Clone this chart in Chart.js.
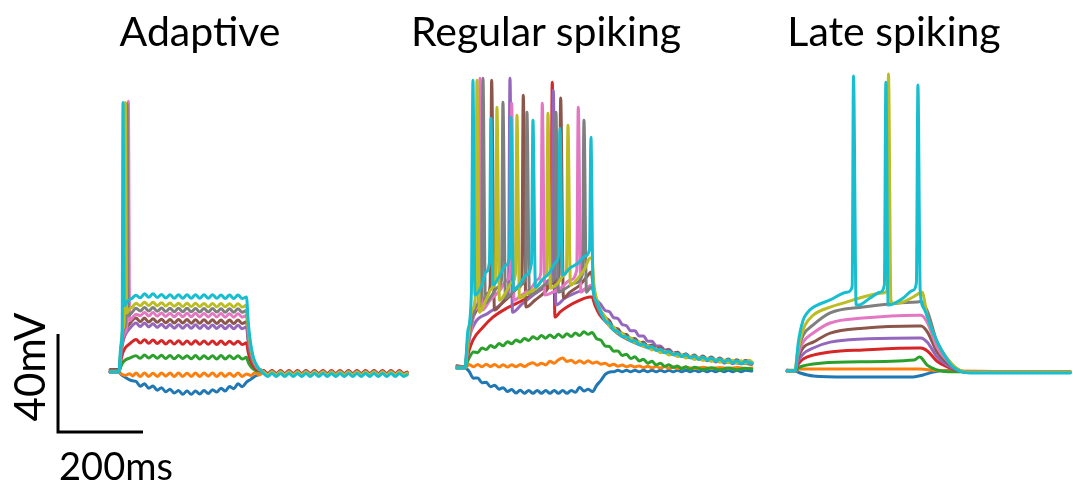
<!DOCTYPE html>
<html>
<head>
<meta charset="utf-8">
<script src="https://cdn.jsdelivr.net/npm/chart.js@4.4.0/dist/chart.umd.min.js"></script>
<style>
  body { margin: 0; background: #fff; }
  #wrap { position: relative; width: 1073px; height: 484px; overflow: hidden; }
  #c { position: absolute; left: 0; top: 0; }
  .lbl { position: absolute; font-family: Lato, sans-serif; font-size: 41px; line-height: 1; color: #000; text-align: center; white-space: nowrap; }
</style>
</head>
<body>
<div id="wrap">
  <canvas id="c" width="1073" height="484"></canvas>
  <div class="lbl" style="left:100px;top:10px;width:200px;">Adaptive</div>
  <div class="lbl" style="left:396px;top:10px;width:300px;">Regular spiking</div>
  <div class="lbl" style="left:744px;top:10px;width:300px;">Late spiking</div>
  <div class="lbl" style="left:-41px;top:346px;width:140px;font-size:42px;transform:rotate(-90deg);">40mV</div>
  <div class="lbl" style="left:36px;top:446px;width:160px;font-size:38px;">200ms</div>
</div>
<script>
// tab10 colours, weakest to strongest current step
const traceColors = ['#1f77b4', '#ff7f0e', '#2ca02c', '#d62728', '#9467bd',
                     '#8c564b', '#e377c2', '#7f7f7f', '#bcbd22', '#17becf'];

// where each panel sits: ms from the first step onset, mV above the first baseline
const panelShiftMs = [0, 814, 1591];
const panelShiftMv = [0, 1.6, 0.4];

// traces as [t ms from step onset, mV from rest, ...]; step lasts ~300 ms
// (the small ups and downs are the 50 Hz ripple seen on the recordings)
const adaptive = [
  [-21,0, 0,0, 5,-1.0, 15,-2.2, 25,-3.2, 32,-3.6,
   40,-3.8, 50,-5.8, 60,-4.8, 70,-6.6, 80,-5.7, 90,-7.4, 100,-6.4, 110,-8.1, 120,-7.0, 130,-8.6, 140,-7.5, 150,-9.1, 160,-7.7, 170,-9.1, 180,-7.7, 190,-9.0, 200,-7.5, 210,-8.8, 220,-7.2, 230,-8.2, 240,-6.6, 250,-7.8, 260,-5.9, 270,-6.8, 280,-4.8, 290,-6.0,
   300,-4.1, 310,-3.0, 320,-1.7, 330,-1.0,
   340,-0.2, 350,-1.4, 360,-0.2, 370,-1.4, 380,-0.2, 390,-1.4, 400,-0.2, 410,-1.4, 420,-0.2, 430,-1.4, 440,-0.2, 450,-1.4, 460,-0.2, 470,-1.4, 480,-0.2, 490,-1.4, 500,-0.2, 510,-1.4, 520,-0.2, 530,-1.4, 540,-0.2, 550,-1.4, 560,-0.2, 570,-1.4, 580,-0.2, 590,-1.4, 600,-0.2, 610,-1.4, 620,-0.2, 630,-1.4, 640,-0.2, 650,-1.4, 660,-0.2, 670,-1.4, 678,-0.8],
  [-21,0, 0,0, 6,-0.8, 15,-1.4, 25,-0.7, 32,-1.6,
   40,-0.4, 50,-1.8, 60,-0.4, 70,-1.8, 80,-0.5, 90,-1.8, 100,-0.4, 110,-1.7, 120,-0.4, 130,-1.8, 140,-0.4, 150,-1.8, 160,-0.5, 170,-1.8, 180,-0.4, 190,-1.8, 200,-0.4, 210,-1.7, 220,-0.4, 230,-1.8, 240,-0.4, 250,-1.8, 260,-0.5, 270,-1.8, 280,-0.4, 290,-1.8,
   300,-0.8, 310,-1.4, 320,-0.3, 330,-1.2,
   340,-0.1, 350,-1.3, 360,-0.1, 370,-1.3, 380,-0.1, 390,-1.3, 400,-0.1, 410,-1.3, 420,-0.1, 430,-1.3, 440,-0.1, 450,-1.3, 460,-0.1, 470,-1.3, 480,-0.1, 490,-1.3, 500,-0.1, 510,-1.3, 520,-0.1, 530,-1.3, 540,-0.1, 550,-1.3, 560,-0.1, 570,-1.3, 580,-0.1, 590,-1.3, 600,-0.1, 610,-1.3, 620,-0.1, 630,-1.3, 640,-0.1, 650,-1.3, 660,-0.1, 670,-1.3, 678,-0.7],
  [-21,0, 0,0, 4,2.1, 8,3.6, 14,4.8, 25,5.7,
   40,6.6, 50,5.6, 60,6.9, 70,5.7, 80,6.8, 90,5.6, 100,6.8, 110,5.5, 120,6.7, 130,5.4, 140,6.7, 150,5.5, 160,6.6, 170,5.4, 180,6.7, 190,5.3, 200,6.6, 210,5.4, 220,6.6, 230,5.3, 240,6.7, 250,5.3, 260,6.6, 270,5.4, 280,6.6, 290,5.3,
   300,6.0, 304,4.0, 309,2.5, 316,1.2, 326,0.4,
   340,0.1, 350,-1.1, 360,0.1, 370,-1.1, 380,0.1, 390,-1.1, 400,0.1, 410,-1.1, 420,0.1, 430,-1.1, 440,0.1, 450,-1.1, 460,0.1, 470,-1.1, 480,0.1, 490,-1.1, 500,0.1, 510,-1.1, 520,0.1, 530,-1.1, 540,0.1, 550,-1.1, 560,0.1, 570,-1.1, 580,0.1, 590,-1.1, 600,0.1, 610,-1.1, 620,0.1, 630,-1.1, 640,0.1, 650,-1.1, 660,0.1, 670,-1.1, 678,-0.5],
  [-21,0, 0,0, 4,4.2, 8,7.3, 14,9.7, 25,11.5,
   40,13.3, 50,11.8, 60,13.2, 70,11.7, 80,13.1, 90,11.6, 100,12.9, 110,11.4, 120,12.8, 130,11.4, 140,12.8, 150,11.3, 160,12.7, 170,11.3, 180,12.8, 190,11.3, 200,12.7, 210,11.3, 220,12.7, 230,11.2, 240,12.7, 250,11.2, 260,12.6, 270,11.3, 280,12.6, 290,11.2,
   300,11.9, 304,8.1, 309,4.9, 316,2.4, 326,0.8,
   340,0.6, 350,-0.6, 360,0.6, 370,-0.6, 380,0.6, 390,-0.6, 400,0.6, 410,-0.6, 420,0.6, 430,-0.6, 440,0.6, 450,-0.6, 460,0.6, 470,-0.6, 480,0.6, 490,-0.6, 500,0.6, 510,-0.6, 520,0.6, 530,-0.6, 540,0.6, 550,-0.6, 560,0.6, 570,-0.6, 580,0.6, 590,-0.6, 600,0.6, 610,-0.6, 620,0.6, 630,-0.6, 640,0.6, 650,-0.6, 660,0.6, 670,-0.6, 678,0],
  [-21,0, 0,0, 4,6.5, 8,11.2, 14,14.9, 25,17.7,
   40,20.0, 50,18.6, 60,20.0, 70,18.4, 80,19.7, 90,18.2, 100,19.5, 110,18.0, 120,19.4, 130,17.9, 140,19.3, 150,17.9, 160,19.3, 170,17.9, 180,19.3, 190,17.8, 200,19.2, 210,17.8, 220,19.2, 230,17.8, 240,19.1, 250,17.7, 260,19.1, 270,17.7, 280,19.1, 290,17.7,
   300,18.4, 304,12.3, 309,7.5, 316,3.7, 326,1.3,
   340,0.2, 350,-1.0, 360,0.2, 370,-1.0, 380,0.2, 390,-1.0, 400,0.2, 410,-1.0, 420,0.2, 430,-1.0, 440,0.2, 450,-1.0, 460,0.2, 470,-1.0, 480,0.2, 490,-1.0, 500,0.2, 510,-1.0, 520,0.2, 530,-1.0, 540,0.2, 550,-1.0, 560,0.2, 570,-1.0, 580,0.2, 590,-1.0, 600,0.2, 610,-1.0, 620,0.2, 630,-1.0, 640,0.2, 650,-1.0, 660,0.2, 670,-1.0, 678,-0.4],
  [-21,1, -3,1, 0,0.5, 4,7.2, 8,12.4, 14,16.6, 25,19.7,
   40,22.0, 50,20.5, 60,22.0, 70,20.4, 80,21.7, 90,20.3, 100,21.5, 110,20.1, 120,21.4, 130,20.0, 140,21.4, 150,20.0, 160,21.4, 170,19.9, 180,21.3, 190,19.9, 200,21.3, 210,19.9, 220,21.3, 230,19.8, 240,21.2, 250,19.8, 260,21.2, 270,19.8, 280,21.2, 290,19.8,
   300,20.5, 304,13.7, 309,8.4, 316,4.1, 326,1.4,
   340,0.4, 350,-0.8, 360,0.4, 370,-0.8, 380,0.4, 390,-0.8, 400,0.4, 410,-0.8, 420,0.4, 430,-0.8, 440,0.4, 450,-0.8, 460,0.4, 470,-0.8, 480,0.4, 490,-0.8, 500,0.4, 510,-0.8, 520,0.4, 530,-0.8, 540,0.4, 550,-0.8, 560,0.4, 570,-0.8, 580,0.4, 590,-0.8, 600,0.4, 610,-0.8, 620,0.4, 630,-0.8, 640,0.4, 650,-0.8, 660,0.4, 670,-0.8, 678,-0.2],
  [-21,0, 0,0, 5,9, 14,16, 19,20, 22,110.5, 25,21, 32,22.2,
   40,23.6, 50,23.0, 60,24.3, 70,22.9, 80,24.3, 90,22.8, 100,24.1, 110,22.7, 120,24.0, 130,22.6, 140,24.0, 150,22.6, 160,24.0, 170,22.6, 180,24.0, 190,22.5, 200,23.9, 210,22.5, 220,23.9, 230,22.5, 240,23.9, 250,22.4, 260,23.8, 270,22.4, 280,23.8, 290,22.4,
   300,23.1, 304,15.5, 309,9.5, 316,4.6, 326,1.6,
   340,0.1, 350,-1.1, 360,0.1, 370,-1.1, 380,0.1, 390,-1.1, 400,0.1, 410,-1.1, 420,0.1, 430,-1.1, 440,0.1, 450,-1.1, 460,0.1, 470,-1.1, 480,0.1, 490,-1.1, 500,0.1, 510,-1.1, 520,0.1, 530,-1.1, 540,0.1, 550,-1.1, 560,0.1, 570,-1.1, 580,0.1, 590,-1.1, 600,0.1, 610,-1.1, 620,0.1, 630,-1.1, 640,0.1, 650,-1.1, 660,0.1, 670,-1.1, 678,-0.5],
  [-21,0.5, -3,0.5, 0,0, 5,10, 13,18, 16,21, 19,109.5, 22,23, 30,24.2,
   40,26.0, 50,24.9, 60,26.3, 70,24.9, 80,26.3, 90,24.8, 100,26.1, 110,24.7, 120,26.0, 130,24.6, 140,26.0, 150,24.6, 160,26.0, 170,24.6, 180,25.9, 190,24.5, 200,25.9, 210,24.5, 220,25.9, 230,24.5, 240,25.8, 250,24.4, 260,25.8, 270,24.4, 280,25.8, 290,24.4,
   300,25.1, 304,16.8, 309,10.3, 316,5.0, 326,1.8,
   340,0.0, 350,-1.2, 360,0.0, 370,-1.2, 380,0.0, 390,-1.2, 400,0.0, 410,-1.2, 420,0.0, 430,-1.2, 440,0.0, 450,-1.2, 460,0.0, 470,-1.2, 480,0.0, 490,-1.2, 500,0.0, 510,-1.2, 520,0.0, 530,-1.2, 540,0.0, 550,-1.2, 560,0.0, 570,-1.2, 580,0.0, 590,-1.2, 600,0.0, 610,-1.2, 620,0.0, 630,-1.2, 640,0.0, 650,-1.2, 660,0.0, 670,-1.2, 678,-0.6],
  [-21,0, 0,0, 5,12, 10,18, 12,20, 15,110, 18,24, 25,25.8, 32,26.6,
   40,28.1, 50,27.0, 60,28.5, 70,27.1, 80,28.5, 90,27.0, 100,28.3, 110,26.9, 120,28.2, 130,26.8, 140,28.1, 150,26.7, 160,28.1, 170,26.7, 180,28.1, 190,26.7, 200,28.0, 210,26.6, 220,28.0, 230,26.6, 240,28.0, 250,26.6, 260,27.9, 270,26.5, 280,27.9, 290,26.5,
   300,27.2, 304,18.2, 309,11.2, 316,5.4, 326,1.9,
   340,0.0, 350,-1.2, 360,0.0, 370,-1.2, 380,0.0, 390,-1.2, 400,0.0, 410,-1.2, 420,0.0, 430,-1.2, 440,0.0, 450,-1.2, 460,0.0, 470,-1.2, 480,0.0, 490,-1.2, 500,0.0, 510,-1.2, 520,0.0, 530,-1.2, 540,0.0, 550,-1.2, 560,0.0, 570,-1.2, 580,0.0, 590,-1.2, 600,0.0, 610,-1.2, 620,0.0, 630,-1.2, 640,0.0, 650,-1.2, 660,0.0, 670,-1.2, 678,-0.6],
  [-21,0, 0,0, 4,10, 7.5,18, 9.4,110, 12.5,27, 20,29, 30,30.0,
   40,31.3, 50,30.3, 60,31.9, 70,30.5, 80,31.9, 90,30.4, 100,31.6, 110,30.2, 120,31.5, 130,30.1, 140,31.5, 150,30.1, 160,31.5, 170,30.1, 180,31.5, 190,30.1, 200,31.5, 210,30.1, 220,31.5, 230,30.1, 240,31.4, 250,30.0, 260,31.4, 270,30.0, 280,31.4, 290,30.0,
   300,30.6, 304,20.5, 309,12.5, 316,6.1, 326,2.1,
   340,-0.6, 350,-1.8, 360,-0.6, 370,-1.8, 380,-0.6, 390,-1.8, 400,-0.6, 410,-1.8, 420,-0.6, 430,-1.8, 440,-0.6, 450,-1.8, 460,-0.6, 470,-1.8, 480,-0.6, 490,-1.8, 500,-0.6, 510,-1.8, 520,-0.6, 530,-1.8, 540,-0.6, 550,-1.8, 560,-0.6, 570,-1.8, 580,-0.6, 590,-1.8, 600,-0.6, 610,-1.8, 620,-0.6, 630,-1.8, 640,-0.6, 650,-1.8, 660,-0.6, 670,-1.8, 678,-1.2]
];

const regular = [
  [-18.8,0, 0,0, 10,-1.4, 20,-4.1, 30,-4.0, 40,-6.0, 50,-5.8, 60,-7.6, 70,-7.0, 80,-8.6, 90,-8.0, 100,-9.6, 110,-8.7, 120,-10.2, 130,-9.0, 140,-10.3, 150,-9.1, 160,-10.3, 170,-9.1, 180,-10.3, 190,-9.1, 200,-10.3, 210,-9.1, 220,-10.3, 230,-9.1, 240,-10.3, 250,-9.1, 260,-9.9, 270,-7.8, 280,-9.4, 290,-8.6, 300,-9.6,
   310,-7.0, 320,-5.0, 330,-2.6, 341,-1.6, 350,-1.5, 360,-0.9, 370,-1.5, 380,-0.9, 390,-1.5, 400,-0.9, 410,-1.5, 420,-0.9, 430,-1.5, 440,-0.9, 450,-1.5, 460,-0.9, 470,-1.5, 480,-0.9, 490,-1.5, 500,-0.9, 510,-1.5, 520,-0.9, 530,-1.5, 540,-0.9, 550,-1.5, 560,-0.9, 570,-1.5, 580,-0.9, 590,-1.5, 600,-0.9, 610,-1.5, 620,-0.9, 630,-1.5, 640,-0.9, 650,-1.5, 660,-0.9, 675,-1.2],
  [-18.8,0, 0,0, 10,1.5, 20,0.5, 30,1.5, 40,0.5, 50,1.6, 60,0.6, 70,1.5, 80,0.4, 90,1.4, 100,0.4, 110,1.4, 120,0.5, 130,1.5, 140,0.6, 150,1.6, 160,2.2, 170,1.2, 180,2.0, 190,1.3, 200,2.8, 210,2.0, 220,3.4, 230,4.1, 240,2.7, 250,3.2, 260,2.1, 270,3.0, 280,2.0, 290,3.0, 300,2.0,
   310,2.5, 320,1.6, 330,2.0, 340,1.0, 350,1.6, 360,0.8, 370,1.3, 380,0.5, 390,1.1, 400,0.4, 410,0.9, 420,0.2, 430,0.8, 440,0.1, 450,0.7, 460,0.0, 470,0.6, 480,-0.1, 490,0.5, 500,-0.2, 520,0.3, 540,-0.2, 560,0.3, 580,-0.2, 600,0.2, 620,-0.2, 640,0.2, 660,-0.2, 675,0],
  [-18.8,0, 0,0, 4.7,2, 10,4.2, 20,6.6, 30,6.3, 40,8.2, 50,7.6, 60,9.2, 70,8.4, 80,10.0, 90,9.1, 100,10.8, 110,9.9, 120,11.5, 130,10.6, 140,12.1, 150,11.3, 160,12.8, 170,11.9, 180,13.3, 190,12.2, 200,13.5, 210,12.4, 220,13.8, 230,12.6, 240,14.0, 250,12.9, 260,14.3, 270,13.3, 280,14.8, 290,13.8, 299,14.5,
   310,12.0, 320,11.4, 330,9.0, 340,8.8, 350,6.9, 360,7.0, 370,5.1, 380,5.6, 390,3.9, 400,4.6, 410,2.9, 420,3.6, 430,2.0, 440,2.8, 450,1.3, 460,2.0, 470,0.7, 480,1.4, 490,0.2, 500,0.9, 510,-0.3, 520,0.5, 530,-0.5, 540,0.3, 560,-0.6, 580,0.1, 600,-0.7, 620,0.0, 640,-0.7, 660,-0.1, 675,-0.4],
  [-18.8,0, 0,0, 4.7,4.1, 18.8,11.4, 42.4,16.7, 65.9,20.8, 98.8,24.5, 136.5,27.7, 176.5,31.8, 197.6,33.9, 201.9,35.9, 205.4,116.7, 211.8,20.8, 223.5,22.8, 240,24.9, 270.6,27.7, 294.1,29, 298.8,29, 305.9,25.7, 317.6,21.6, 341.2,17.5, 381.2,12.7, 418.8,9.8, 458.8,7.3, 505.9,5.3, 552.9,4.1, 616.5,2.9, 675.3,1.6],
  [-18.8,0, 0,0, 7.1,10.2, 23.5,18.4, 54.1,22.4, 87.1,26.5, 98.8,29.4, 102.4,31.8, 105.9,118.3, 111.8,22.8, 134.1,26.1, 157.6,29.4, 181.2,32.6, 197.6,35.9, 204.2,38.4, 207.8,113.4, 214.1,25.7, 235.3,28.6, 258.8,30.6, 294.1,33, 298.8,33.5, 305.9,29,
   320,25.9, 330,23.5, 340,23.0, 350,20.6, 360,20.2, 370,17.8, 380,17.3, 390,15.2, 400,15.2, 410,13.1, 420,13.1, 430,11.0, 440,11.0, 450,9.0, 460,9.0, 470,7.4, 480,7.7, 490,6.1, 500,6.5, 510,5.1, 520,5.7, 530,4.3, 540,4.9, 550,3.6, 560,4.3, 570,3.0, 580,3.7, 590,2.5, 600,3.3, 610,2.0, 620,2.9, 630,1.8, 640,2.7, 650,1.7, 660,2.6, 675.3,2],
  [-18.8,1, 0,0.5, 7.1,12.7, 23.5,22.4, 40,26.5, 54.1,30.6, 59.3,33.9, 62.8,117.5, 69.4,23.7, 87.1,26.5, 105.9,29.4, 124.7,32.6, 133.6,35.9, 137.2,111.4, 143.5,24.9, 164.7,27.7, 188.2,31, 207.1,34.7, 221.6,37.9, 225.2,110.2, 231.8,28.6, 247.1,31, 270.6,33.9, 289.4,37.9, 296.5,39.2, 303.5,31.8, 312.9,25.7, 329.4,20.8,
   340,19.3, 350,16.4, 360,16.0, 370,13.9, 380,13.7, 390,11.9, 400,12.1, 410,10.4, 420,10.6, 430,9.0, 440,9.4, 450,7.8, 460,8.3, 470,6.8, 480,7.4, 490,5.9, 500,6.5, 510,5.1, 520,5.8, 530,4.5, 540,5.3, 550,4.0, 560,4.9, 570,3.7, 580,4.5, 590,3.3, 600,4.1, 610,2.9, 620,3.7, 630,2.6, 640,3.4, 650,2.3, 660,3.1, 675.3,2.4],
  [-18.8,0, 0,0, 7.1,8.2, 16.5,17.5, 23.5,23.7, 31.8,28.6, 35.3,118.3, 41.2,23.7, 58.8,27.7, 82.4,31.8, 98.8,35.9, 106.4,39.2, 109.9,108.1, 115.3,27.7, 134.1,29.8, 157.6,33, 171.8,36.3, 178.4,38.8, 181.9,108.1, 188.2,29.8, 207.1,31, 228.2,33, 247.1,35.9, 263.1,40, 266.6,106.5, 272.9,31, 284.7,32.6, 298.8,33.9, 305.9,28.6, 317.6,23.7, 334.1,19.2, 357.6,15.1, 381.2,12.2, 418.8,9.4, 458.8,7.3, 505.9,5.3, 552.9,4.1, 616.5,2.9, 675.3,2],
  [-18.8,0.8, 0,0.5, 7.1,9.4, 16.5,19.6, 28.2,25.7, 38.8,29.8, 42.4,118.3, 48.2,26.5, 63.5,29.8, 77.6,33, 85.9,35.9, 89.4,108.5, 95.3,28.6, 110.6,30.6, 129.4,33.9, 142.4,37.1, 145.9,104.4, 151.8,29.8, 171.8,31.8, 192.9,34.3, 210.6,37.5, 214.1,104.4, 220,31, 237.6,32.6, 258.8,34.7, 276.5,38.4, 280,101.2, 285.9,31, 294.1,32.6, 298.8,33, 305.9,27.7, 317.6,22.8, 334.1,18.4, 357.6,14.3, 381.2,11.8, 418.8,9, 458.8,6.9, 505.9,4.9, 552.9,3.7, 616.5,2.4, 675.3,1.6],
  [-18.8,0, 0,0, 7.1,11.4, 16.5,23.7, 24.7,29.8, 28.2,117.5, 34.1,22.8, 49.4,27.7, 63.5,32.6, 71.8,36.7, 75.3,106.5, 81.2,27.7, 96.5,31, 110.6,35.1, 118.8,38.4, 122.4,103.2, 128.2,28.6, 148.2,30.6, 169.4,33, 185.9,36.7, 191.8,39.2, 195.3,104, 201.2,32.6, 218.8,34.7, 232.9,37.9, 238.8,40, 242.4,99.1, 248.2,33.9, 265.9,36.7, 282.4,40.8, 294.1,44.9, 298.8,44.9, 303.5,33.9, 310.6,27.7,
   320,23.1, 330,20.9, 340,17.3, 350,16.8, 360,14.4, 370,14.3, 380,12.3, 390,12.4, 400,10.5, 410,10.7, 420,8.9, 430,9.1, 440,7.4, 450,7.9, 460,6.3, 470,6.8, 480,5.3, 490,6.0, 500,4.7, 510,5.4, 520,4.1, 530,4.8, 540,3.5, 550,4.3, 560,3.1, 570,3.9, 580,2.7, 590,3.6, 600,2.4, 610,3.3, 620,2.2, 630,3.2, 640,2.1, 650,3.0, 660,2.0, 670,3.2, 675.3,2.4],
  [-18.8,0, 0,0, 7.1,15.5, 15.3,31.8, 18.8,117.5, 23.5,29.8, 40,33.9, 49.4,39.2, 57.6,43.2, 61.2,102, 65.9,33.9, 82.4,37.9, 96.5,42, 104.7,44.9, 108.2,102.4, 114.1,31.8, 129.4,34.3, 143.5,37.9, 156.5,42.8, 160,101.2, 165.9,33, 181.2,35.9, 200,39.2, 214.1,43.2, 220,45.7, 223.5,97.9, 229.4,37.9, 247.1,40.8, 265.9,42.8, 282.4,45.7, 293,48.1, 296.5,94.2, 301.2,33.9, 308.2,27.7,
   320,22.7, 330,19.3, 340,18.3, 350,15.5, 360,14.9, 370,12.9, 380,12.8, 390,11.1, 400,11.3, 410,9.5, 420,9.8, 430,8.3, 440,8.8, 450,7.3, 460,7.7, 470,6.3, 480,6.9, 490,5.5, 500,6.0, 510,4.7, 520,5.5, 530,4.2, 540,4.9, 550,3.6, 560,4.5, 570,3.3, 580,4.1, 590,2.9, 600,3.7, 610,2.5, 620,3.4, 630,2.2, 640,3.0, 650,1.9, 660,2.7, 675.3,2]
];

const late = [
  [-18.8,0, 0,0, 11.8,-0.8, 42.4,-2, 122.4,-2.4, 277.6,-2.4, 301.2,-1.6, 324.7,-0.4, 357.6,0.2, 400,-0.2, 647,-0.2],
  [-18.8,0, 0,0, 10,0.8, 294,0.8, 330,0.2, 647,-0.3],
  [-18.8,0, 0,0, 7,1.2, 19,2.1, 42.4,2.9, 122.4,3.7, 280,4.5, 292,5.7, 296,5.5, 310.6,2.4, 334.1,0.4, 360,-0.3, 647,-0.4],
  [-18.8,0, 0,0, 7,2.8, 19,4.9, 42.4,6.5, 82.4,7.8, 160,8.6, 287,9.4, 296,9.4, 311,8.2, 334,4.0, 358,1.7, 381,0.3, 400,-0.3, 647,-0.5],
  [-18.8,0, 0,0, 7,4.0, 19,7.0, 42.4,9.4, 82.4,11.8, 160,13.1, 287,13.5, 296,13.5, 311,11.7, 334,5.7, 358,2.4, 381,0.4, 400,-0.4, 647,-0.5],
  [-18.8,0, 0,0, 7,5.5, 19,9.6, 42.4,11.8, 82.4,15.5, 160,17.5, 287,18.4, 296,18.4, 311,16, 334,7.7, 358,3.3, 381,0.6, 400,-0.4, 647,-0.5],
  [-18.8,0, 0,0, 7,6.8, 19,11.9, 42.4,15.5, 82.4,19.6, 160,21.6, 287,22.8, 296,22.8, 311,19.8, 334,9.6, 358,4.1, 381,0.7, 400,-0.4, 647,-0.5],
  [-18.8,0.4, 0,0.3, 7,8.5, 19,14.7, 42.4,18.8, 82.4,23.7, 160,26.1, 240,27.7, 287,28.2, 296,28.4, 311,24.5, 334,11.8, 358,5.1, 381,0.8, 400,-0.4, 647,-0.4],
  [-18.8,0, 0,0, 4,5.8, 11.8,12.7, 23.5,18.8, 42.4,22.8, 82.4,26.1, 122.4,28.2, 160,30.2, 207.1,31.8, 216.5,33, 219.5,121.2, 225.2,29, 228.2,27.7, 254.1,28.2, 277.6,30.2, 298.8,32.2, 310.6,22.4, 329.4,13.5, 352.9,6.1, 376.5,1.6, 404.7,-0.4, 647,-0.4],
  [-18.8,0, 0,0, 7.1,11.4, 18.8,20.8, 28.2,23.7, 42.4,26, 82.4,29, 122.4,32.2, 134.1,34.3, 137.2,120.4, 143.5,26.9, 148.2,26.9, 176.5,29.8, 200,32.2, 209.9,35.1, 213.4,117.9, 218.8,26.9, 254.1,29.8, 277.6,33, 285.2,35.9, 288.8,116.7, 294.1,33, 301.2,26.1, 324.7,15.5, 348.2,7.3, 371.8,1.6, 411.8,-0.8, 647,-0.8]
];

// scale bar: corner position (ms, mV) and lengths
const barCorner = [-143.5, -24.5];
const barMs = 200;
const barMv = 40;

const datasets = [];
[adaptive, regular, late].forEach((traces, p) => {
  traces.forEach((tr, i) => {
    const pts = [];
    for (let k = 0; k < tr.length; k += 2) {
      pts.push({ x: panelShiftMs[p] + tr[k], y: panelShiftMv[p] + tr[k + 1] });
    }
    datasets.push({
      data: pts,
      borderColor: traceColors[i],
      borderWidth: 3,
      cubicInterpolationMode: 'monotone',
      order: 10 - i
    });
  });
});

datasets.push({
  data: [
    { x: barCorner[0], y: barCorner[1] + barMv },
    { x: barCorner[0], y: barCorner[1] },
    { x: barCorner[0] + barMs, y: barCorner[1] }
  ],
  borderColor: '#000',
  borderWidth: 3,
  borderJoinStyle: 'miter',
  borderCapStyle: 'butt',
  order: 0
});

new Chart(document.getElementById('c'), {
  type: 'line',
  data: { datasets },
  options: {
    responsive: false,
    animation: false,
    devicePixelRatio: 1,
    layout: { padding: 0 },
    elements: {
      point: { radius: 0 },
      line: { tension: 0, borderJoinStyle: 'round', borderCapStyle: 'round' }
    },
    plugins: { legend: { display: false }, tooltip: { enabled: false } },
    scales: {
      x: { type: 'linear', min: -280, max: 2244.7, display: false },
      y: { type: 'linear', min: -45.71, max: 151.84, display: false }
    }
  }
});
</script>
</body>
</html>
